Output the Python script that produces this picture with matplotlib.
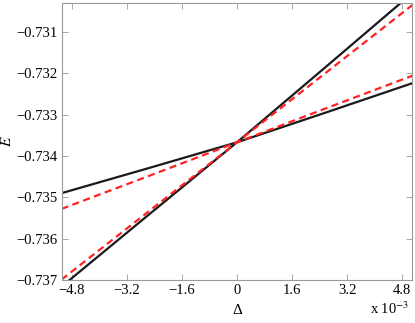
import numpy as np
import matplotlib.pyplot as plt

plt.rcParams['font.family'] = ['Liberation Serif', 'DejaVu Serif']
plt.rcParams['mathtext.fontset'] = 'stix'

# delta in units of 1e-3
delta = [-5.1, -2.55, 0.0, 2.55, 5.1]

# exact levels (black, solid)
e_shallow = [-0.7349, -0.73429, -0.73367, -0.73296, -0.73224]
e_steep = [-0.73716, -0.73541, -0.73367, -0.73187, -0.73006]

# approximations (red, dashed)
a_shallow = [-0.73528, -0.73448, -0.73367, -0.73286, -0.73206]
a_steep = [-0.73699, -0.73533, -0.73367, -0.73201, -0.73035]

xticks = [-4.8, -3.2, -1.6, 0, 1.6, 3.2, 4.8]
yticks = [-0.737, -0.736, -0.735, -0.734, -0.733, -0.732, -0.731]

fig = plt.figure(figsize=(4.15, 3.23), dpi=100)
ax = fig.add_axes([0.149, 0.133, 0.844, 0.858])

ax.plot(delta, e_shallow, color='#1a1a1a', lw=1.6)
ax.plot(delta, e_steep, color='#1a1a1a', lw=1.6)
ax.plot(delta, a_shallow, color='#ff2222', lw=1.6, ls=(0, (3.2, 2.0)))
ax.plot(delta, a_steep, color='#ff2222', lw=1.6, ls=(0, (3.2, 2.0)))

ax.set_xlim(-5.09, 5.09)
ax.set_ylim(-0.737, -0.7303)
ax.set_xticks(xticks)
ax.set_xticklabels([('%g' % t).replace('-', '\u2212') for t in xticks])
ax.set_yticks(yticks)
ax.set_yticklabels([('%.3f' % t).replace('-', '\u2212') for t in yticks])

for s in ax.spines.values():
    s.set_color('#9a9a9a')
    s.set_linewidth(0.8)
ax.tick_params(direction='in', top=True, right=True, length=4, width=0.6,
               color='#9a9a9a', labelsize=10.5, pad=3)

ax.set_xlabel('\u0394', fontsize=11, labelpad=5)
ax.set_ylabel('$E$', fontsize=11, labelpad=2)
fig.text(0.985, 0.02, 'x 10$^{\u22123}$', ha='right', va='bottom', fontsize=10.5)

fig.savefig('out.png', dpi=100)
